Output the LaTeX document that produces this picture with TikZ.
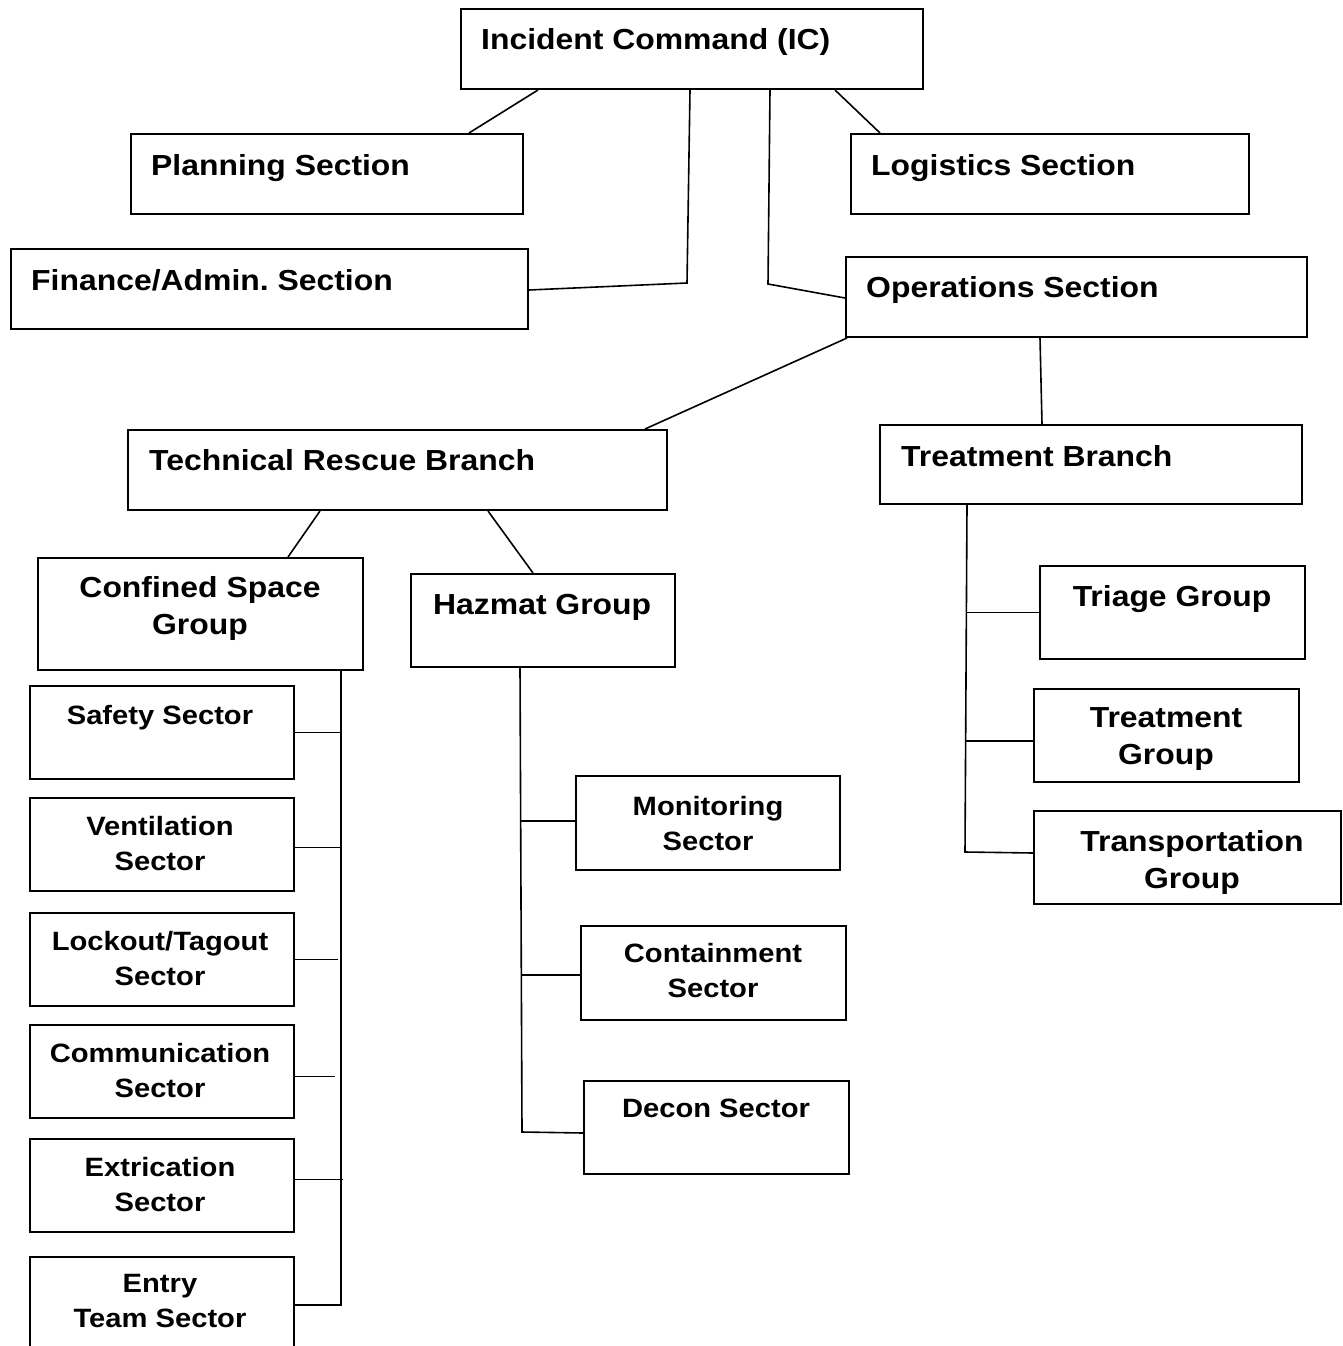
\documentclass[tikz,border=0pt]{standalone}
\usepackage{fontspec}
\newfontfamily\arfont{Liberation Sans}[FakeStretch=1.1]
\frenchspacing
\begin{document}
\begin{tikzpicture}[x=1pt,y=-1pt,
  box/.style={draw=black, line width=2pt, fill=none, inner sep=0pt, anchor=north west},
  conn/.style={draw=black, line width=1.6pt},
  bigL/.style={inner sep=0pt, anchor=base west, font=\arfont\bfseries\fontsize{29}{37.5}\selectfont},
  bigC/.style={inner sep=0pt, anchor=north, align=center, font=\arfont\bfseries\fontsize{29}{37.5}\selectfont},
  smallC/.style={inner sep=0pt, anchor=north, align=center, font=\arfont\bfseries\fontsize{26.5}{35}\selectfont}]
\useasboundingbox (0,0) rectangle (1343,1346);
\clip (0,0) rectangle (1343,1346);
\fill[white] (0,0) rectangle (1343,1346);

% boxes
\node[box, minimum width=462pt, minimum height=80pt] (ic) at (460,8) {};
\node[box, minimum width=392pt, minimum height=80pt] (plan) at (130,133) {};
\node[box, minimum width=398pt, minimum height=80pt] (logi) at (850,133) {};
\node[box, minimum width=517pt, minimum height=80pt] (fin) at (10,248) {};
\node[box, minimum width=461pt, minimum height=80pt] (ops) at (845,256) {};
\node[box, minimum width=539pt, minimum height=80pt] (tech) at (127,429) {};
\node[box, minimum width=422pt, minimum height=79pt] (treatb) at (879,424) {};
\node[box, minimum width=325pt, minimum height=112pt] (conf) at (37,557) {};
\node[box, minimum width=264pt, minimum height=93pt] (haz) at (410,573) {};
\node[box, minimum width=265pt, minimum height=93pt] (triage) at (1039,565) {};
\node[box, minimum width=265pt, minimum height=93pt] (treatg) at (1033,688) {};
\node[box, minimum width=307pt, minimum height=93pt] (trans) at (1033,810) {};
\node[box, minimum width=264pt, minimum height=94pt] (mon) at (575,775) {};
\node[box, minimum width=265pt, minimum height=94pt] (cont) at (580,925) {};
\node[box, minimum width=265pt, minimum height=93pt] (decon) at (583,1080) {};
\node[box, minimum width=264pt, minimum height=93pt] (safety) at (29,685) {};
\node[box, minimum width=264pt, minimum height=93pt] (vent) at (29,797) {};
\node[box, minimum width=264pt, minimum height=93pt] (lock) at (29,912) {};
\node[box, minimum width=264pt, minimum height=93pt] (comm) at (29,1024) {};
\node[box, minimum width=264pt, minimum height=93pt] (extr) at (29,1138) {};
\node[box, minimum width=264pt, minimum height=120pt] (entry) at (29,1256) {};

% texts
\node[bigL] (ict) at (481,49) {Incident Command (IC)};
\node[bigL] (plant) at (151,175) {Planning Section};
\node[bigL] (logit) at (871,175) {Logistics Section};
\node[bigL] (fint) at (31,290) {Finance/Admin. Section};
\node[bigL] (opst) at (866,297) {Operations Section};
\node[bigL] (techt) at (149,470) {Technical Rescue Branch};
\node[bigL] (treatbt) at (901,466) {Treatment Branch};
\node[bigL] (hazt) at (433,614) {Hazmat Group};
\node[bigC] (conft) at (200,576) {Confined Space\\Group};
\node[bigC] (triaget) at (1172,585) {Triage Group};
\node[bigC] (treatgt) at (1166,707) {Treatment\\Group};
\node[bigC] (transt) at (1192,830) {Transportation\\Group};
\node[smallC] (safetyt) at (160,705) {Safety Sector};
\node[smallC] (ventt) at (160,816) {Ventilation\\Sector};
\node[smallC] (lockt) at (160,931) {Lockout/Tagout\\Sector};
\node[smallC] (commt) at (160,1043) {Communication\\Sector};
\node[smallC] (extrt) at (160,1157) {Extrication\\Sector};
\node[smallC] (entryt) at (160,1274) {Entry\\Team Sector};
\node[smallC] (mont) at (708,796) {Monitoring\\Sector};
\node[smallC] (contt) at (713,943) {Containment\\Sector};
\node[smallC] (decont) at (716,1099) {Decon Sector};

% bend points
\coordinate (finbend) at (687,283);
\coordinate (opsbend) at (768,284);
\coordinate (hazbot) at (522,1132);
\coordinate (treatbot) at (965,852);

% connectors
\draw[conn] ([xshift=78pt]ic.south west) -- ([xshift=339pt]plan.north west);
\draw[conn] ([xshift=230pt]ic.south west) -- (finbend) -- ([yshift=-42pt]fin.north east);
\draw[conn] ([xshift=310pt]ic.south west) -- (opsbend) -- ([yshift=-42pt]ops.north west);
\draw[conn] ([xshift=375pt]ic.south west) -- ([xshift=30pt]logi.north west);
\draw[conn] ([xshift=2pt]ops.south west) -- ([xshift=518pt]tech.north west);
\draw[conn] ([xshift=195pt]ops.south west) -- ([xshift=163pt]treatb.north west);
\draw[conn] ([xshift=193pt]tech.south west) -- ([xshift=251pt]conf.north west);
\draw[conn] ([xshift=361pt]tech.south west) -- ([xshift=123pt]haz.north west);

% confined space bus
\draw[conn] ([xshift=304pt]conf.south west) |- ([yshift=-49pt]entry.north east);
\draw[conn] (safety.east) -- ++(46,0);
\draw[conn] ([yshift=-3pt]vent.east) -- ++(46,0);
\draw[conn] (lock.east) -- ++(43,0);
\draw[conn] ([yshift=-5pt]comm.east) -- ++(40,0);
\draw[conn] ([yshift=6pt]extr.east) -- ++(48,0);

% hazmat bus
\draw[conn] ([xshift=110pt]haz.south west) -- (hazbot) -- ([yshift=-5.5pt]decon.west);
\draw[conn] ([yshift=2pt]mon.west) -- ++(-54,0);
\draw[conn] ([yshift=-2pt]cont.west) -- ++(-58,0);

% treatment bus
\draw[conn] ([xshift=88pt]treatb.south west) -- (treatbot) -- ([yshift=4.5pt]trans.west);
\draw[conn] (triage.west) -- ++(-72,0);
\draw[conn] ([yshift=-5.5pt]treatg.west) -- ++(-68,0);
\end{tikzpicture}
\end{document}
